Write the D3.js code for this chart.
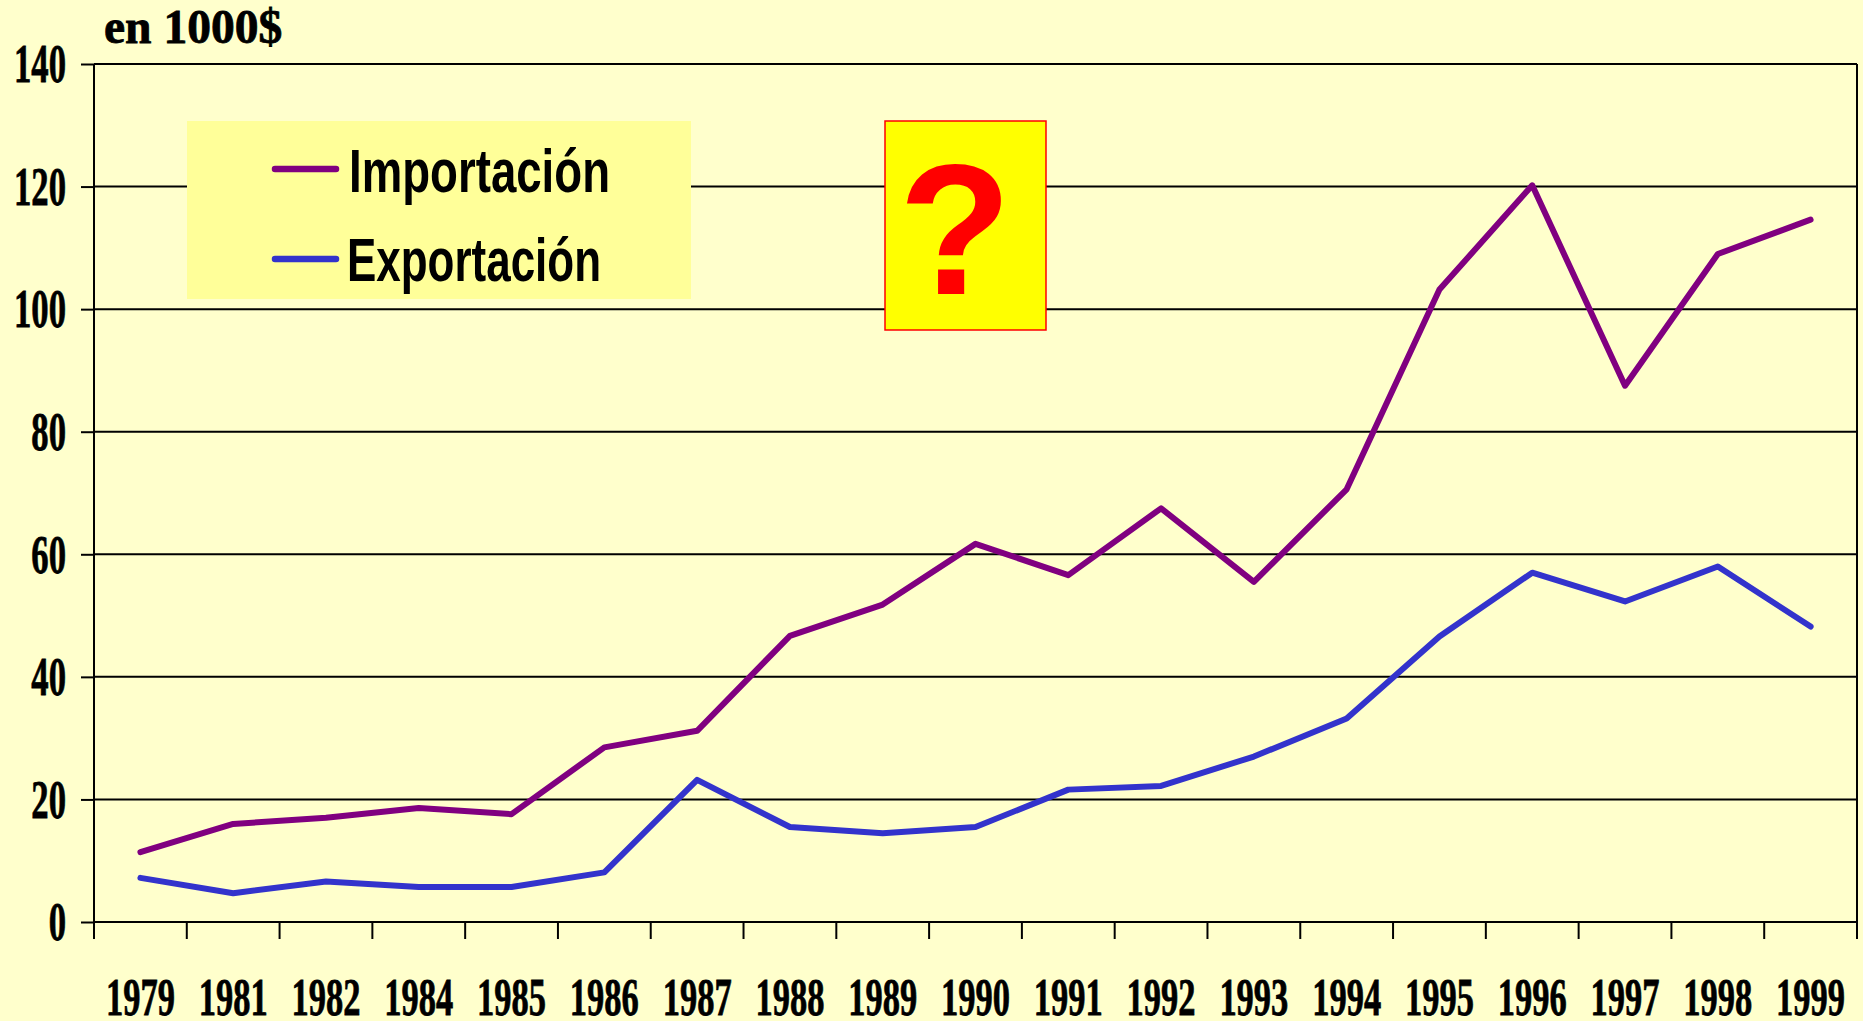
<!DOCTYPE html>
<html>
<head>
<meta charset="utf-8">
<script src="https://cdn.jsdelivr.net/npm/d3@7"></script>
<style>
    html, body { margin: 0; padding: 0; background: #ffffcc; overflow: hidden; }
    svg { display: block; }
    .num { font-family: "Liberation Serif", serif; font-weight: bold; fill: #000; stroke: #000; stroke-width: 0.8px; }
    .leg { font-family: "Liberation Sans", sans-serif; font-weight: bold; fill: #000; }
</style>
</head>
<body>
<svg id="chart" width="1863" height="1021"></svg>
<script>
const years = ["1979", "1981", "1982", "1984", "1985", "1986", "1987", "1988", "1989", "1990",
    "1991", "1992", "1993", "1994", "1995", "1996", "1997", "1998", "1999"];
const importacion = [11.4, 16, 17, 18.6, 17.6, 28.5, 31.2, 46.7, 51.8, 61.7,
    56.6, 67.5, 55.5, 70.6, 103.2, 120.2, 87.5, 109, 114.6];
const exportacion = [7.2, 4.7, 6.6, 5.7, 5.7, 8.1, 23.2, 15.5, 14.5, 15.5,
    21.6, 22.2, 27, 33.2, 46.6, 57, 52.3, 58, 48.2];
const yTicks = [0, 20, 40, 60, 80, 100, 120, 140];

const left = 94, right = 1857, top_ = 64, bottom = 922;
const PURPLE = "#800080", BLUE = "#3333cc";

const svg = d3.select("#chart");

const x = d3.scaleBand().domain(years).range([left, right]);
const y = d3.scaleLinear().domain([0, 140]).range([bottom, top_]);

// gridlines
svg.append("g")
    .selectAll("line")
    .data(yTicks)
    .enter().append("line")
    .attr("x1", left)
    .attr("x2", right)
    .attr("y1", d => y(d))
    .attr("y2", d => y(d))
    .attr("stroke", "#000")
    .attr("stroke-width", 2);

// right border
svg.append("line")
    .attr("x1", right).attr("x2", right)
    .attr("y1", top_).attr("y2", bottom + 17)
    .attr("stroke", "#000").attr("stroke-width", 2);

// y axis, labels are squeezed sideways like the condensed face of the original
const yAxis = svg.append("g")
    .attr("transform", "translate(" + left + ",0)")
    .call(d3.axisLeft(y).tickValues(yTicks).tickSize(13));
yAxis.select(".domain").attr("stroke-width", 2).attr("d", "M0," + top_ + "V" + (bottom + 17));
yAxis.selectAll(".tick line").attr("stroke-width", 2);
yAxis.selectAll("text")
    .attr("class", "num")
    .style("font-size", "54px")
    .attr("x", 0)
    .attr("dy", "0.33em")
    .attr("transform", "translate(-28,0) scale(0.642,1)");

// x axis, ticks sit on the band edges so they get drawn apart from the labels
const xAxis = svg.append("g")
    .attr("transform", "translate(0," + bottom + ")")
    .call(d3.axisBottom(x).tickSize(0));
xAxis.select(".domain").remove();
xAxis.selectAll("text")
    .attr("class", "num")
    .style("font-size", "53px")
    .attr("y", 0)
    .attr("dy", 0)
    .attr("transform", "translate(0,93) scale(0.651,1)");

svg.append("g")
    .selectAll("line")
    .data(years)
    .enter().append("line")
    .attr("x1", d => x(d))
    .attr("x2", d => x(d))
    .attr("y1", bottom)
    .attr("y2", bottom + 17)
    .attr("stroke", "#000")
    .attr("stroke-width", 2);

// unit label
svg.append("text")
    .attr("class", "num")
    .attr("transform", "translate(104,43) scale(0.99,1)")
    .style("font-size", "48px")
    .text("en 1000$");

// series
const line = d3.line()
    .x((d, i) => x(years[i]) + x.bandwidth() / 2)
    .y(d => y(d));

svg.append("path")
    .datum(importacion)
    .attr("fill", "none")
    .attr("stroke", PURPLE)
    .attr("stroke-width", 6)
    .attr("stroke-linejoin", "round")
    .attr("stroke-linecap", "round")
    .attr("d", line);

svg.append("path")
    .datum(exportacion)
    .attr("fill", "none")
    .attr("stroke", BLUE)
    .attr("stroke-width", 6)
    .attr("stroke-linejoin", "round")
    .attr("stroke-linecap", "round")
    .attr("d", line);

// legend
svg.append("rect")
    .attr("x", 187).attr("y", 121)
    .attr("width", 504).attr("height", 178)
    .attr("fill", "#ffff99");

const legendItems = [
    { name: "Importación", color: PURPLE, ly: 169, tx: 349, ty: 192, len: 261 },
    { name: "Exportación", color: BLUE, ly: 259, tx: 347, ty: 281, len: 254 }
];
legendItems.forEach(function (item) {
    svg.append("line")
        .attr("x1", 275).attr("x2", 336)
        .attr("y1", item.ly).attr("y2", item.ly)
        .attr("stroke", item.color)
        .attr("stroke-width", 6.5)
        .attr("stroke-linecap", "round");
    svg.append("text")
        .attr("class", "leg")
        .attr("x", item.tx)
        .attr("y", item.ty)
        .style("font-size", "62px")
        .attr("textLength", item.len)
        .attr("lengthAdjust", "spacingAndGlyphs")
        .text(item.name);
});

// question mark box
svg.append("rect")
    .attr("x", 885).attr("y", 121)
    .attr("width", 161).attr("height", 209)
    .attr("fill", "#ffff00")
    .attr("stroke", "#ff0000")
    .attr("stroke-width", 1.5);

svg.append("text")
    .attr("x", 955)
    .attr("y", 294)
    .attr("text-anchor", "middle")
    .style("font-family", '"Liberation Sans", sans-serif')
    .style("font-weight", "bold")
    .style("font-size", "185px")
    .attr("fill", "#ff0000")
    .text("?");
</script>
</body>
</html>
